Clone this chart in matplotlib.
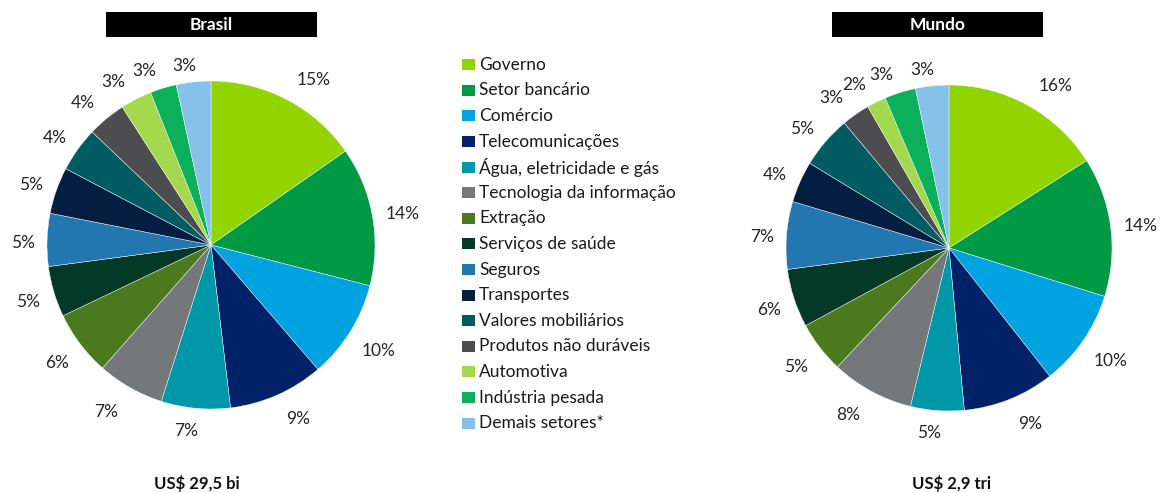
import numpy as np
import matplotlib
matplotlib.use("Agg")
import matplotlib.pyplot as plt
from matplotlib.patches import Rectangle

plt.rcParams['font.family'] = ['Lato', 'DejaVu Sans']

categories = ["Governo", "Setor bancário", "Comércio", "Telecomunicações",
              "Água, eletricidade e gás", "Tecnologia da informação", "Extração",
              "Serviços de saúde", "Seguros", "Transportes", "Valores mobiliários",
              "Produtos não duráveis", "Automotiva", "Indústria pesada", "Demais setores*"]
brasil = [15.3, 13.7, 9.7, 9.4, 6.8, 6.6, 6.4, 5.0, 5.2, 4.6, 4.4, 3.8, 3.1, 2.6, 3.4]
mundo = [16.0, 13.8, 9.6, 9.1, 5.3, 8.2, 5.1, 5.8, 6.7, 4.1, 5.2, 2.8, 1.9, 3.1, 3.3]
colors = ["#92D400", "#009A44", "#00A3E0", "#012169", "#0097A9", "#75787B",
          "#4B7A1E", "#043927", "#2377B0", "#041E42", "#005C62", "#4D4D4F",
          "#A4D94E", "#0DB05A", "#85C1E9"]
titles = ["Brasil", "Mundo"]
totals = ["US$ 29,5 bi", "US$ 2,9 tri"]

W, H = 1163, 493
fig = plt.figure(figsize=(W / 100, H / 100), dpi=100)

def fx(px):
    return px / W

def fy(py):
    return 1 - py / H

pies = [  # (cx, cy, r, box_x0, box_x1, total_x)
    (211, 245, 164, 106, 317, 197),
    (949, 248, 163, 832, 1043, 951),
]

axes = []
for (cx, cy, r, bx0, bx1, tx), vals, title, total in zip(pies, [brasil, mundo], titles, totals):
    ax = fig.add_axes([fx(cx - r), fy(cy + r), 2 * r / W, 2 * r / H])
    wedges, texts, autotexts = ax.pie(
        vals, colors=colors, startangle=90, counterclock=False,
        autopct=lambda p: f"{p:.0f}%", pctdistance=1.15, radius=1,
        wedgeprops=dict(edgecolor="white", linewidth=0.3),
        textprops=dict(fontsize=12.5, color="#262626"))
    ax.set_xlim(-1, 1)
    ax.set_ylim(-1, 1)
    ax.set_aspect("auto")
    axes.append((ax, r, wedges, autotexts))
    # title box
    fig.patches.append(Rectangle((fx(bx0), fy(37)), fx(bx1 - bx0), (37 - 12) / H,
                                 transform=fig.transFigure, facecolor="black",
                                 edgecolor="none"))
    fig.text(fx((bx0 + bx1) / 2), fy(24.5), title, color="white", fontsize=12.5,
             fontweight="bold", ha="center", va="center")
    fig.text(fx(tx), fy(483), total, color="#111111", fontsize=12,
             fontweight="bold", ha="center", va="center")

# place percentage labels just outside the circle
fig.canvas.draw()
renderer = fig.canvas.get_renderer()
for ax, r, wedges, autotexts in axes:
    gap = 12 / r
    for w, t in zip(wedges, autotexts):
        thd = (w.theta1 + w.theta2) / 2
        th = np.deg2rad(thd)
        bb = t.get_window_extent(renderer)
        hw = bb.width / 2 / r
        hh = bb.height / 2 / r * 0.8
        d = 1 + gap + hw * abs(np.cos(th)) + hh * abs(np.sin(th))
        # angle away from the vertical axis
        phi = 90 - abs(np.rad2deg(np.arcsin(np.clip(np.sin(th), -1, 1))))
        s = np.interp(phi, [0, 15, 30, 55, 90], [0.35, 1, 1, 0.2, 0])
        xs = np.sign(np.cos(th)) * s * (0.6 * bb.width / 2 + 5) / r
        t.set_position((d * np.cos(th) + xs, d * np.sin(th) - 3.5 / r))
        t.set_ha("center")
        t.set_va("center")

# legend
y0, dy = 64.7, 25.6
for i, (cat, col) in enumerate(zip(categories, colors)):
    y = y0 + i * dy
    fig.patches.append(Rectangle((fx(462), fy(y + 5.5)), fx(12.5), 11 / H,
                                 transform=fig.transFigure, facecolor=col,
                                 edgecolor="none"))
    fig.text(fx(479), fy(y), cat, fontsize=12.5, color="#1a1a1a",
             ha="left", va="center")

fig.savefig("out.png", dpi=100)
